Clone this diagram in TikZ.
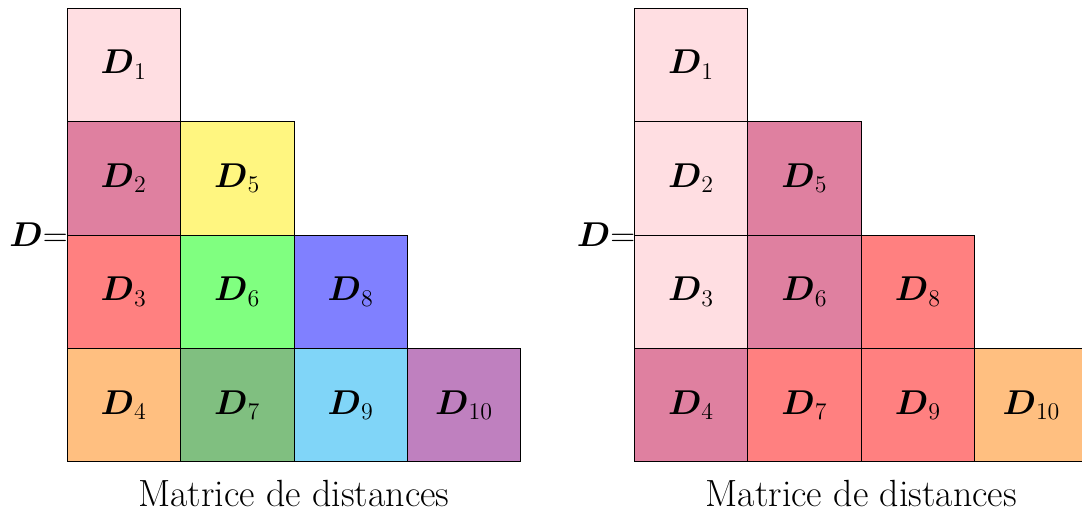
\documentclass[tikz,border=0pt]{standalone}
\usepackage{amsmath,amssymb}
\usetikzlibrary{positioning}
\definecolor{Rose}{HTML}{FFDEE2}
\definecolor{Plum}{HTML}{DF80A0}
\definecolor{Coral}{HTML}{FF8080}
\definecolor{Apricot}{HTML}{FFBF80}
\definecolor{Lemon}{HTML}{FFF680}
\definecolor{Lime}{HTML}{80FF80}
\definecolor{Fern}{HTML}{80BF80}
\definecolor{Periwinkle}{HTML}{8080FF}
\definecolor{Sky}{HTML}{80D5F8}
\definecolor{Orchid}{HTML}{BF80BF}
\tikzset{
 cell/.style={draw=black,minimum size=2cm,inner sep=0pt,outer sep=0pt,font=\LARGE},
 matlabel/.style={anchor=east,inner sep=0pt,xshift=0.02cm,font=\LARGE},
 caption/.style={anchor=base,font=\fontsize{19}{23}\selectfont}
}

\begin{document}
\begin{tikzpicture}[node distance=0pt]
\useasboundingbox (-1.18,-0.97) rectangle (17.89,8.14);
% first matrix
\node[cell,fill=Rose] (a1) at (1,7) {$\boldsymbol{D}_1$};
\node[cell,fill=Plum,below=of a1] (a2) {$\boldsymbol{D}_2$};
\node[cell,fill=Coral,below=of a2] (a3) {$\boldsymbol{D}_3$};
\node[cell,fill=Apricot,below=of a3] (a4) {$\boldsymbol{D}_4$};
\node[cell,fill=Lemon,right=of a2] (a5) {$\boldsymbol{D}_5$};
\node[cell,fill=Lime,below=of a5] (a6) {$\boldsymbol{D}_6$};
\node[cell,fill=Fern,below=of a6] (a7) {$\boldsymbol{D}_7$};
\node[cell,fill=Periwinkle,right=of a6] (a8) {$\boldsymbol{D}_8$};
\node[cell,fill=Sky,below=of a8] (a9) {$\boldsymbol{D}_9$};
\node[cell,fill=Orchid,right=of a9] (a10) {$\boldsymbol{D}_{10}$};
\node[matlabel] (la) at (a2.south west) {$\boldsymbol{D}$=};
\node[caption] (ca) at (4,-0.79) {Matrice de distances};
% second matrix
\node[cell,fill=Rose] (b1) at (11,7) {$\boldsymbol{D}_1$};
\node[cell,fill=Rose,below=of b1] (b2) {$\boldsymbol{D}_2$};
\node[cell,fill=Rose,below=of b2] (b3) {$\boldsymbol{D}_3$};
\node[cell,fill=Plum,below=of b3] (b4) {$\boldsymbol{D}_4$};
\node[cell,fill=Plum,right=of b2] (b5) {$\boldsymbol{D}_5$};
\node[cell,fill=Plum,below=of b5] (b6) {$\boldsymbol{D}_6$};
\node[cell,fill=Coral,below=of b6] (b7) {$\boldsymbol{D}_7$};
\node[cell,fill=Coral,right=of b6] (b8) {$\boldsymbol{D}_8$};
\node[cell,fill=Coral,below=of b8] (b9) {$\boldsymbol{D}_9$};
\node[cell,fill=Apricot,right=of b9] (b10) {$\boldsymbol{D}_{10}$};
\node[matlabel] (lb) at (b2.south west) {$\boldsymbol{D}$=};
\node[caption] (cb) at (14,-0.79) {Matrice de distances};
\end{tikzpicture}
\end{document}
